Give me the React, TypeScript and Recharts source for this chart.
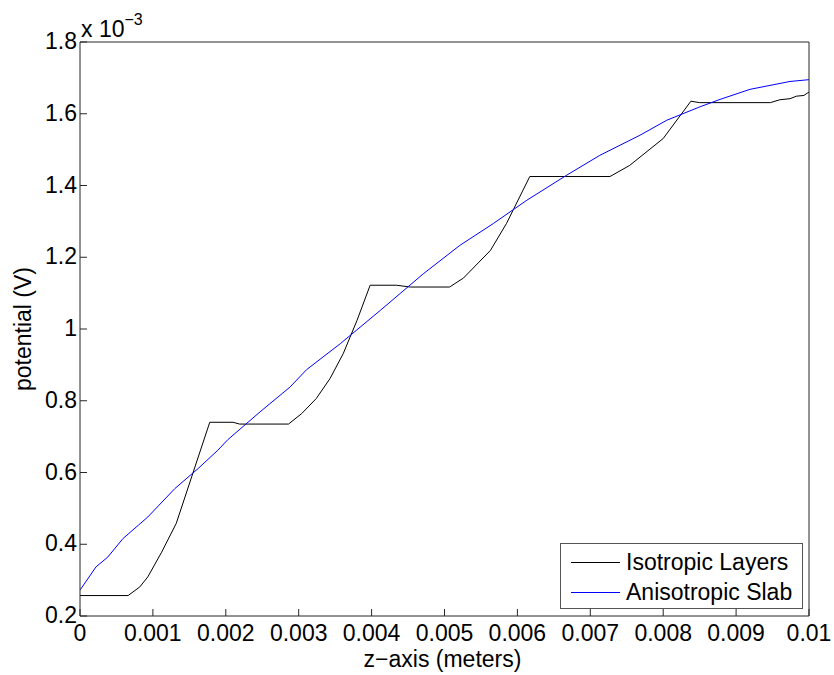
import { LineChart, Line, XAxis, YAxis, Legend } from "recharts";

// Isotropic Layers (black), potential in units of 1e-3 V
const isoX = [
  0, 0.00066, 0.00082, 0.00093, 0.00112, 0.00132, 0.00178, 0.0021, 0.00219,
  0.00286, 0.00304, 0.00324, 0.00343, 0.00361, 0.0038, 0.00398, 0.00434,
  0.00453, 0.00507, 0.00526, 0.00563, 0.00585, 0.00617, 0.00727, 0.00754,
  0.008, 0.00838, 0.0085, 0.00947, 0.0096, 0.00974, 0.00983, 0.00993, 0.00998,
  0.01,
];
const isoY = [
  0.257, 0.257, 0.281, 0.309, 0.378, 0.458, 0.74, 0.74, 0.735, 0.735, 0.764,
  0.806, 0.862, 0.931, 1.024, 1.122, 1.122, 1.117, 1.117, 1.142, 1.219, 1.294,
  1.425, 1.425, 1.456, 1.531, 1.635, 1.631, 1.631, 1.639, 1.642, 1.649, 1.651,
  1.658, 1.66,
];

// Anisotropic Slab (blue)
const slabX = [
  0, 0.00022, 0.00038, 0.00059, 0.0008, 0.00093, 0.0013, 0.00162, 0.00189,
  0.00203, 0.00247, 0.00288, 0.00311, 0.00357, 0.00412, 0.00471, 0.00521,
  0.00567, 0.00613, 0.00667, 0.00713, 0.00768, 0.00805, 0.0085, 0.00878,
  0.00919, 0.00974, 0.01,
];
const slabY = [
  0.272, 0.337, 0.364, 0.416, 0.453, 0.476, 0.555, 0.611, 0.662, 0.692, 0.769,
  0.838, 0.887, 0.959, 1.052, 1.154, 1.233, 1.294, 1.359, 1.428, 1.484, 1.54,
  1.582, 1.619, 1.64, 1.668, 1.69, 1.695,
];

const xTicks = [0, 0.001, 0.002, 0.003, 0.004, 0.005, 0.006, 0.007, 0.008, 0.009, 0.01];
const yTicks = [0.2, 0.4, 0.6, 0.8, 1, 1.2, 1.4, 1.6, 1.8];

const seriesNames = ["Isotropic Layers", "Anisotropic Slab"];
const seriesColors = ["#000000", "#0000ff"];

const isoData = isoX.map((x, i) => ({ x, y: isoY[i] }));
const slabData = slabX.map((x, i) => ({ x, y: slabY[i] }));

const font = "'Liberation Sans', Arial, Helvetica, sans-serif";
const fs = 23;
const axisColor = "#262626";

const XTick = (props: any) => {
  const { x, y, payload } = props;
  return (
    <text x={x} y={y + 20} textAnchor="middle" fontFamily={font} fontSize={fs} fill="#000">
      {String(payload.value)}
    </text>
  );
};

const YTick = (props: any) => {
  const { x, y, payload } = props;
  return (
    <text x={x + 1} y={y + 7} textAnchor="end" fontFamily={font} fontSize={fs} fill="#000">
      {String(payload.value)}
    </text>
  );
};

const XTitle = (props: any) => {
  const { viewBox } = props;
  return (
    <text
      x={viewBox.x + viewBox.width / 2 - 2}
      y={667}
      textAnchor="middle"
      fontFamily={font}
      fontSize={fs}
      fill="#000"
    >
      z−axis (meters)
    </text>
  );
};

const YTitle = (props: any) => {
  const { viewBox } = props;
  const cy = viewBox.y + viewBox.height / 2;
  return (
    <text
      x={31}
      y={cy}
      transform={`rotate(-90, 31, ${cy})`}
      textAnchor="middle"
      fontFamily={font}
      fontSize={fs}
      fill="#000"
    >
      potential (V)
    </text>
  );
};

const ScaleLabel = (props: any) => {
  const { viewBox } = props;
  const x = viewBox.x;
  return (
    <text x={x + 1} y={37} fontFamily={font} fontSize={fs} fill="#000">
      x 10
      <tspan dy={-12} fontSize={16}>
        −3
      </tspan>
    </text>
  );
};

const LegendBox = () => (
  <div
    style={{
      border: "1px solid #555",
      background: "#fff",
      width: 243,
      height: 66,
      boxSizing: "border-box",
      fontFamily: font,
      fontSize: fs,
      color: "#000",
      padding: "3px 0 0 10px",
    }}
  >
    {seriesNames.map((n, i) => (
      <div key={n} style={{ display: "flex", alignItems: "center", height: 30 }}>
        <span
          style={{
            display: "inline-block",
            width: 49,
            height: 0,
            borderTop: `1px solid ${seriesColors[i]}`,
            marginRight: 6,
          }}
        />
        <span>{n}</span>
      </div>
    ))}
  </div>
);

export default function App() {
  return (
    <div style={{ position: "absolute", left: 0, top: 0, width: 834, height: 675, background: "#fff" }}>
      <LineChart
        width={834}
        height={675}
        margin={{ top: 41, right: 24, bottom: 0, left: 0 }}
      >
        <XAxis
          xAxisId="b"
          dataKey="x"
          type="number"
          domain={[0, 0.01]}
          ticks={xTicks}
          allowDataOverflow
          height={59}
          tickSize={-7}
          tickMargin={12}
          tick={<XTick />}
          stroke={axisColor}
          label={{ content: (p: any) => <XTitle {...p} /> }}
        />
        <XAxis
          xAxisId="t"
          orientation="top"
          dataKey="x"
          type="number"
          domain={[0, 0.01]}
          ticks={xTicks}
          allowDataOverflow
          height={1}
          tickSize={-7}
          tick={false}
          stroke={axisColor}
          label={{ content: (p: any) => <ScaleLabel {...p} /> }}
        />
        <YAxis
          yAxisId="l"
          type="number"
          domain={[0.2, 1.8]}
          ticks={yTicks}
          allowDataOverflow
          width={80}
          tickSize={-7}
          tickMargin={11}
          tick={<YTick />}
          stroke={axisColor}
          label={{ content: (p: any) => <YTitle {...p} /> }}
        />
        <YAxis
          yAxisId="r"
          orientation="right"
          type="number"
          domain={[0.2, 1.8]}
          ticks={yTicks}
          allowDataOverflow
          width={1}
          tickSize={-7}
          tick={false}
          stroke={axisColor}
        />
        <Line
          xAxisId="b"
          yAxisId="l"
          data={isoData}
          dataKey="y"
          name={seriesNames[0]}
          type="linear"
          stroke={seriesColors[0]}
          strokeWidth={1}
          dot={false}
          activeDot={false}
          isAnimationActive={false}
        />
        <Line
          xAxisId="b"
          yAxisId="l"
          data={slabData}
          dataKey="y"
          name={seriesNames[1]}
          type="linear"
          stroke={seriesColors[1]}
          strokeWidth={1}
          dot={false}
          activeDot={false}
          isAnimationActive={false}
        />
        <Legend
          layout="vertical"
          align="center"
          verticalAlign="middle"
          content={<LegendBox />}
          wrapperStyle={{ position: "absolute", left: 560, top: 543, width: 243, height: 66 }}
        />
      </LineChart>
    </div>
  );
}
